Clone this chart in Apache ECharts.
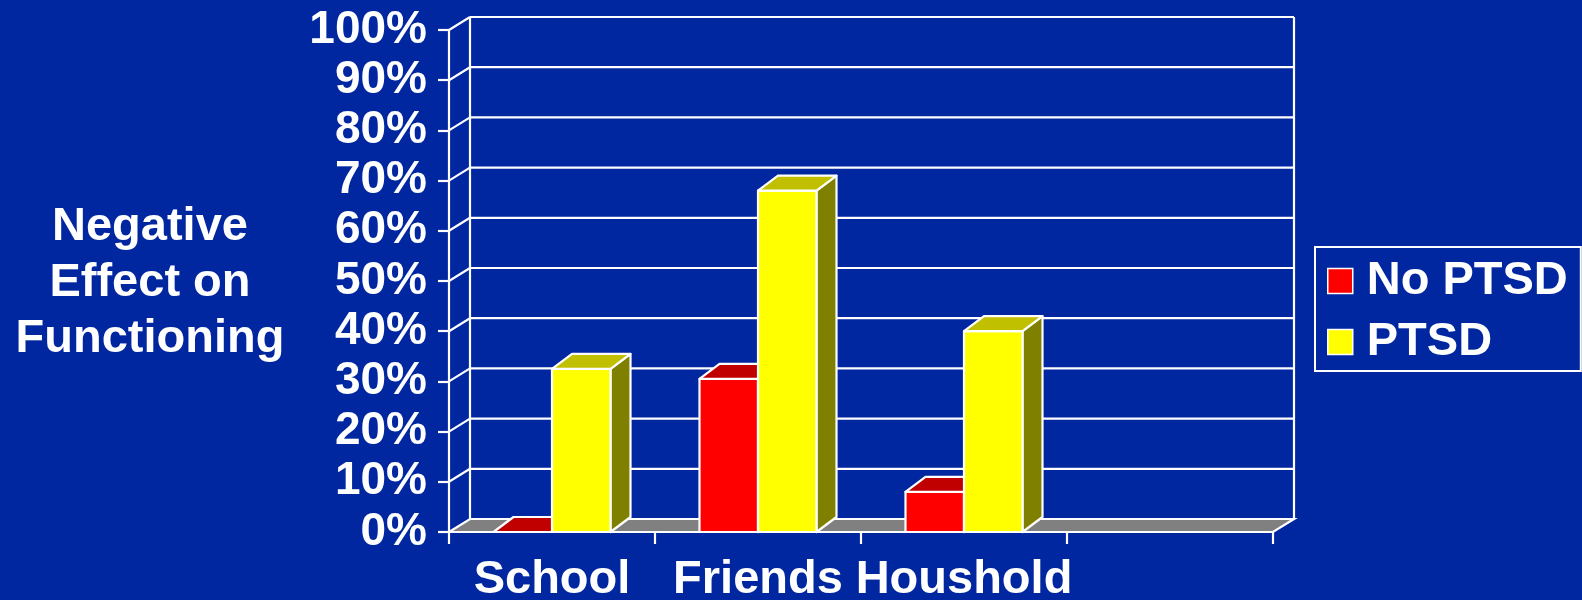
<!DOCTYPE html>
<html>
<head>
<meta charset="utf-8">
<title>Negative Effect on Functioning</title>
<script src="https://cdn.jsdelivr.net/npm/echarts@6/dist/echarts.min.js"></script>
<style>
  html, body { margin: 0; padding: 0; background: #0026a0; }
  #chart { width: 1582px; height: 600px; }
</style>
</head>
<body>
<div id="chart"></div>
<script>
// Categories (the fourth slot is an empty category, as in the original slide)
const categories = ['School', 'Friends', 'Houshold', ''];
// Share of children reporting a negative effect, in percent
const noPtsd = [0, 30.5, 8];
const ptsd = [32.5, 68, 40];
const seriesNames = ['No PTSD', 'PTSD'];
// Value axis ticks
const yTicks = [0, 10, 20, 30, 40, 50, 60, 70, 80, 90, 100];
const yTitle = 'Negative\nEffect on\nFunctioning';

const FONT = "'Liberation Sans', Arial, Helvetica, sans-serif";
const WALL_DX = 21, WALL_DY = 13;   // depth offset of the back wall / floor
const BAR_DX = 20, BAR_DY = 15;     // depth offset of each 3D column
const BAR_FRAC = 0.284;             // column width as a share of the category band
const LINE_W = 2.2;

const palette = {
  'No PTSD': { front: '#ff0000', top: '#c00000', side: '#800000' },
  'PTSD':    { front: '#ffff00', top: '#c0c000', side: '#808000' }
};

// Back wall, floor and the slanted gridlines
function renderFrame(params, api) {
  const v = api.value(1);
  const band = api.size([1, 0])[0];
  const p = api.coord([0, v]);
  const xL = p[0] - band / 2;
  const xR = api.coord([categories.length - 1, v])[0] + band / 2;
  const y = p[1];
  const style = { stroke: '#ffffff', lineWidth: LINE_W, fill: null };
  const children = [];
  if (v === yTicks[0]) {
    const yTop = api.coord([0, yTicks[yTicks.length - 1]])[1];
    children.push({ type: 'line', shape: { x1: xL + WALL_DX, y1: y - WALL_DY, x2: xL + WALL_DX, y2: yTop - WALL_DY }, style: style });
    children.push({ type: 'line', shape: { x1: xR + WALL_DX, y1: y - WALL_DY, x2: xR + WALL_DX, y2: yTop - WALL_DY }, style: style });
    children.push({
      type: 'polygon',
      shape: { points: [[xL, y], [xR, y], [xR + WALL_DX, y - WALL_DY], [xL + WALL_DX, y - WALL_DY]] },
      style: { fill: '#808080', stroke: '#ffffff', lineWidth: LINE_W }
    });
  } else {
    children.push({ type: 'line', shape: { x1: xL, y1: y, x2: xL + WALL_DX, y2: y - WALL_DY }, style: style });
    children.push({ type: 'line', shape: { x1: xL + WALL_DX, y1: y - WALL_DY, x2: xR + WALL_DX, y2: y - WALL_DY }, style: style });
  }
  return { type: 'group', children: children };
}

// A 3D column: front face, top face and right side face
function makeBarRenderer(name, side) {
  const c = palette[name];
  return function (params, api) {
    const ci = api.value(0);
    const v = api.value(1);
    const base = api.coord([ci, 0]);
    const top = api.coord([ci, v]);
    const band = api.size([1, 0])[0];
    const w = band * BAR_FRAC;
    const x0 = side < 0 ? base[0] - w : base[0];
    const x1 = x0 + w;
    const yb = base[1], yt = top[1];
    const stroke = { stroke: '#ffffff', lineWidth: LINE_W, lineJoin: 'round' };
    const children = [];
    if (yb - yt > 0.5) {
      children.push({
        type: 'polygon',
        shape: { points: [[x1, yt], [x1 + BAR_DX, yt - BAR_DY], [x1 + BAR_DX, yb - BAR_DY], [x1, yb]] },
        style: Object.assign({ fill: c.side }, stroke)
      });
      children.push({
        type: 'rect',
        shape: { x: x0, y: yt, width: w, height: yb - yt },
        style: Object.assign({ fill: c.front }, stroke)
      });
    }
    children.push({
      type: 'polygon',
      shape: { points: [[x0, yt], [x1, yt], [x1 + BAR_DX, yt - BAR_DY], [x0 + BAR_DX, yt - BAR_DY]] },
      style: Object.assign({ fill: c.top }, stroke)
    });
    return { type: 'group', children: children };
  };
}

const chart = echarts.init(document.getElementById('chart'), null, { renderer: 'canvas' });

chart.setOption({
  backgroundColor: '#0026a0',
  animation: false,
  grid: {
    left: 449, right: 309, top: 30, bottom: 68,
    containLabel: false, outerBoundsMode: 'none'
  },
  legend: {
    data: seriesNames,
    orient: 'vertical',
    left: 1315, top: 247,
    icon: 'rect',
    itemWidth: 25, itemHeight: 25, itemGap: 11,
    selectedMode: false,
    borderColor: '#ffffff', borderWidth: 2, borderRadius: 0,
    padding: [9, 13, 4, 12],
    itemStyle: { borderColor: '#ffffff', borderWidth: 1.5 },
    textStyle: {
      color: '#ffffff', fontSize: 47, fontWeight: 'bold', fontFamily: FONT,
      lineHeight: 50, padding: [0, 0, 0, 9]
    }
  },
  graphic: [{
    type: 'text',
    x: 150, y: 283,
    style: {
      text: yTitle,
      fill: '#ffffff',
      font: 'bold 47px ' + FONT,
      align: 'center', verticalAlign: 'middle',
      lineHeight: 56
    }
  }],
  xAxis: {
    type: 'category',
    data: categories,
    boundaryGap: true,
    axisLine: { show: true, lineStyle: { color: '#ffffff', width: LINE_W } },
    axisTick: { show: true, length: 12, interval: 0, lineStyle: { color: '#ffffff', width: LINE_W } },
    axisLabel: {
      interval: 0, margin: 25,
      color: '#ffffff', fontSize: 47, fontWeight: 'bold', fontFamily: FONT
    },
    splitLine: { show: false }
  },
  yAxis: {
    type: 'value',
    min: yTicks[0], max: yTicks[yTicks.length - 1], interval: yTicks[1] - yTicks[0],
    axisLine: { show: true, lineStyle: { color: '#ffffff', width: LINE_W } },
    axisTick: { show: true, length: 11, lineStyle: { color: '#ffffff', width: LINE_W } },
    axisLabel: {
      margin: 22, formatter: '{value}%',
      color: '#ffffff', fontSize: 46, fontWeight: 'bold', fontFamily: FONT
    },
    splitLine: { show: false }
  },
  series: [
    {
      type: 'custom',
      name: 'frame',
      silent: true,
      clip: false,
      z: 1,
      renderItem: renderFrame,
      encode: { x: 0, y: 1 },
      data: yTicks.map(function (t) { return [0, t]; })
    },
    {
      type: 'custom',
      name: seriesNames[0],
      clip: false,
      z: 3,
      itemStyle: { color: palette['No PTSD'].front },
      renderItem: makeBarRenderer('No PTSD', -1),
      encode: { x: 0, y: 1 },
      data: noPtsd.map(function (v, i) { return [i, v]; })
    },
    {
      type: 'custom',
      name: seriesNames[1],
      clip: false,
      z: 4,
      itemStyle: { color: palette['PTSD'].front },
      renderItem: makeBarRenderer('PTSD', 1),
      encode: { x: 0, y: 1 },
      data: ptsd.map(function (v, i) { return [i, v]; })
    }
  ]
});
</script>
</body>
</html>
